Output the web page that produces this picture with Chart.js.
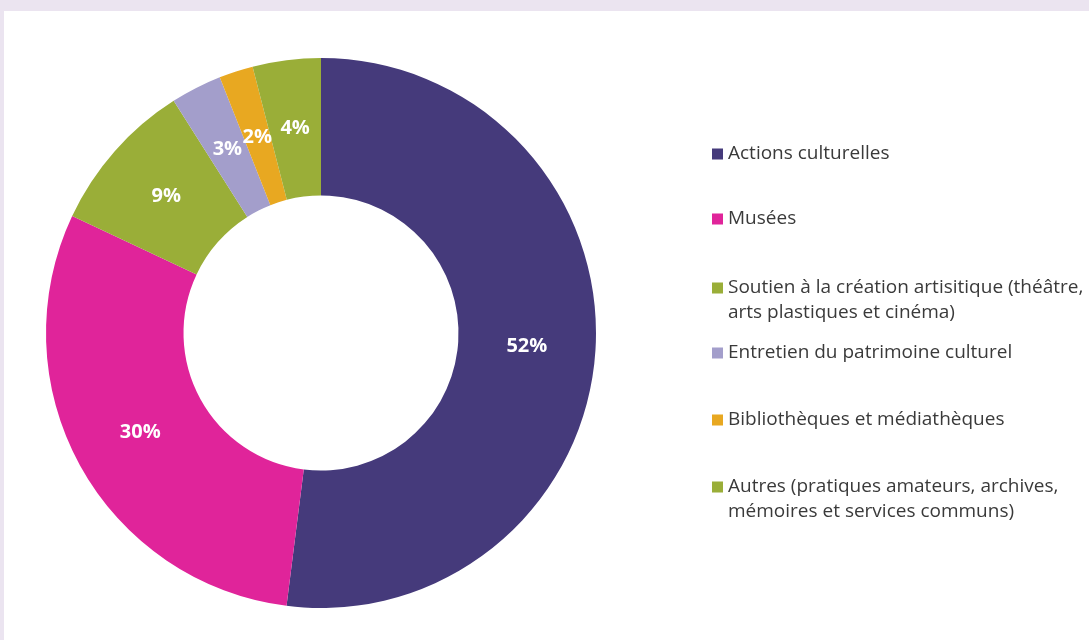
<!DOCTYPE html>
<html>
<head>
<meta charset="utf-8">
<script src="https://cdn.jsdelivr.net/npm/chart.js@4.4.1/dist/chart.umd.min.js"></script>
<style>
  html, body { margin: 0; padding: 0; background: #ebe4f0; width: 1089px; height: 640px; overflow: hidden; }
  #panel { position: absolute; left: 4px; top: 11px; width: 1085px; height: 629px; background: #ffffff; }
  canvas { display: block; }
</style>
</head>
<body>
<div id="panel"><canvas id="c" width="1085" height="629"></canvas></div>
<script>
// ---- Data ----
const categories = [
  ["Actions culturelles"],
  ["Musées"],
  ["Soutien à la création artisitique (théâtre,", "arts plastiques et cinéma)"],
  ["Entretien du patrimoine culturel"],
  ["Bibliothèques et médiathèques"],
  ["Autres (pratiques amateurs, archives,", "mémoires et services communs)"]
];
const shares = [52, 30, 9, 3, 2, 4];
const sliceColors = ["#453a7b", "#e0249a", "#9aae38", "#a39ecb", "#e8a821", "#9aae38"];

// ---- Plugins ----
const sliceLabels = {
  id: 'sliceLabels',
  afterDatasetsDraw(chart) {
    const ctx = chart.ctx;
    const meta = chart.getDatasetMeta(0);
    ctx.save();
    ctx.fillStyle = '#ffffff';
    ctx.font = 'bold 20px "Open Sans"';
    ctx.textAlign = 'center';
    ctx.textBaseline = 'middle';
    meta.data.forEach((arc, i) => {
      const p = arc.tooltipPosition();
      ctx.fillText(chart.data.datasets[0].data[i] + '%', p.x, p.y);
    });
    ctx.restore();
  }
};

const sideLegend = {
  id: 'sideLegend',
  afterDraw(chart) {
    const ctx = chart.ctx;
    const rowsY = [143, 208, 277, 342, 409, 476]; // first-line centre, canvas coords
    const lineGap = 25;
    const boxX = 708, boxSize = 11, textX = 724;
    ctx.save();
    ctx.font = '19px "Open Sans"';
    ctx.textBaseline = 'middle';
    ctx.textAlign = 'left';
    chart.data.labels.forEach((lab, i) => {
      const y = rowsY[i];
      ctx.fillStyle = chart.data.datasets[0].backgroundColor[i];
      ctx.fillRect(boxX, y - boxSize / 2, boxSize, boxSize);
      ctx.fillStyle = '#3a3a3a';
      lab.forEach((line, k) => ctx.fillText(line, textX, y + k * lineGap));
    });
    ctx.restore();
  }
};

new Chart(document.getElementById('c'), {
  type: 'doughnut',
  data: {
    labels: categories,
    datasets: [{
      data: shares,
      backgroundColor: sliceColors,
      borderWidth: 0
    }]
  },
  options: {
    responsive: false,
    animation: false,
    cutout: '50%',
    layout: { padding: { left: 42, top: 47, right: 493, bottom: 32 } },
    plugins: {
      legend: { display: false },
      tooltip: { enabled: false }
    }
  },
  plugins: [sliceLabels, sideLegend]
});
</script>
</body>
</html>
